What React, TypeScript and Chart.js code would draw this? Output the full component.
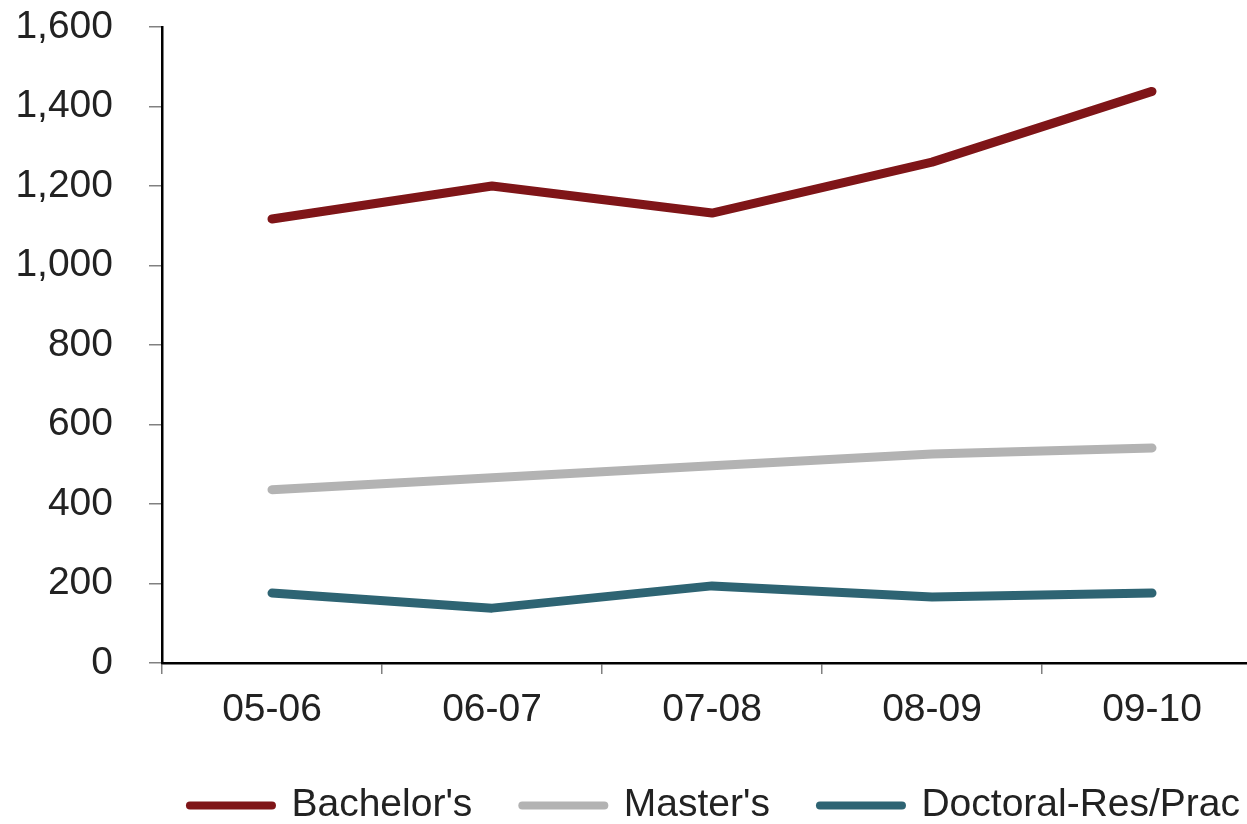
import React, { useEffect, useRef } from "react";
import { Chart, registerables } from "chart.js";

Chart.register(...registerables);

const categories = ["05-06", "06-07", "07-08", "08-09", "09-10"];
const bachelors = [1117, 1200, 1132, 1260, 1438];
const masters = [436, 466, 496, 526, 541];
const doctoral = [176, 138, 194, 166, 176];
const yTicks = [0, 200, 400, 600, 800, 1000, 1200, 1400, 1600];

const FONT = "'Liberation Sans', Arial, Helvetica, sans-serif";
const TEXT = "#222222";
const FS = 39;
const W = 1430;
const H = 835;

export default function App() {
  const ref = useRef<HTMLCanvasElement | null>(null);

  useEffect(() => {
    document.body.style.overflow = "hidden";
    const canvas = ref.current;
    if (!canvas) return;
    const baseGen = (Chart as any).defaults.plugins.legend.labels.generateLabels;
    const chart = new Chart(canvas, {
      type: "line",
      data: {
        labels: categories,
        datasets: [
          {
            label: "Bachelor's",
            data: bachelors,
            borderColor: "#7F1518",
            backgroundColor: "#7F1518",
            borderWidth: 9,
            borderCapStyle: "round",
            borderJoinStyle: "round",
            pointRadius: 0,
            tension: 0,
          },
          {
            label: "Master's",
            data: masters,
            borderColor: "#B3B3B3",
            backgroundColor: "#B3B3B3",
            borderWidth: 9,
            borderCapStyle: "round",
            borderJoinStyle: "round",
            pointRadius: 0,
            tension: 0,
          },
          {
            label: "Doctoral-Res/Prac",
            data: doctoral,
            borderColor: "#2E6473",
            backgroundColor: "#2E6473",
            borderWidth: 9,
            borderCapStyle: "round",
            borderJoinStyle: "round",
            pointRadius: 0,
            tension: 0,
          },
        ],
      },
      options: {
        animation: false,
        responsive: false,
        maintainAspectRatio: false,
        layout: { padding: { top: 27, left: 0, right: 0, bottom: 0 } },
        plugins: {
          tooltip: { enabled: false },
          legend: {
            position: "bottom",
            align: "center",
            labels: {
              usePointStyle: true,
              pointStyle: "line",
              pointStyleWidth: 82,
              padding: 50,
              color: TEXT,
              font: { family: FONT, size: FS },
              generateLabels: (c: any) =>
                baseGen(c).map((item: any) => ({
                  ...item,
                  lineCap: "round",
                  lineWidth: 8,
                })),
            },
          },
        },
        scales: {
          x: {
            type: "category",
            offset: true,
            afterFit: (s: any) => {
              s.height = 73;
            },
            grid: {
              offset: true,
              drawOnChartArea: false,
              drawTicks: true,
              tickLength: 11,
              color: "#808080",
              lineWidth: 1.5,
            },
            border: { display: true, color: "#000000", width: 2.5 },
            ticks: {
              color: TEXT,
              padding: 13,
              maxRotation: 0,
              font: { family: FONT, size: FS },
            },
          },
          y: {
            type: "linear",
            position: "left",
            min: 0,
            max: 1600,
            afterFit: (s: any) => {
              s.width = 162;
              s.paddingTop = 20;
              s.paddingBottom = 20;
            },
            afterBuildTicks: (s: any) => {
              s.ticks = yTicks.map((v) => ({ value: v }));
            },
            grid: {
              drawOnChartArea: false,
              drawTicks: true,
              tickLength: 13,
              color: "#808080",
              lineWidth: 1.5,
            },
            border: { display: true, color: "#000000", width: 2.5 },
            ticks: {
              color: TEXT,
              padding: 36,
              font: { family: FONT, size: FS },
              callback: (v: any) => Number(v).toLocaleString("en-US"),
            },
          },
          yR: {
            type: "linear",
            position: "right",
            display: true,
            afterFit: (s: any) => {
              s.width = 168;
              s.paddingTop = 0;
              s.paddingBottom = 0;
            },
            grid: { display: false, drawTicks: false },
            border: { display: false },
            ticks: { display: false },
          },
        },
      },
    });
    return () => chart.destroy();
  }, []);

  return (
    <div style={{ position: "absolute", left: 0, top: 0, width: W, height: H }}>
      <canvas ref={ref} width={W} height={H} style={{ width: W, height: H, display: "block" }} />
    </div>
  );
}
